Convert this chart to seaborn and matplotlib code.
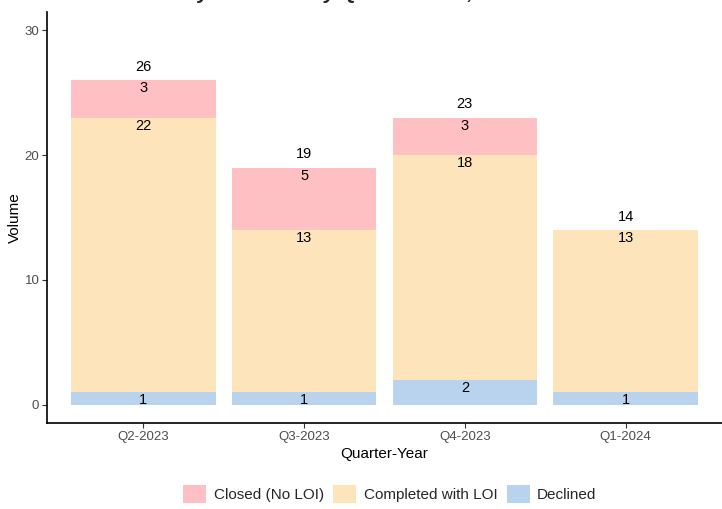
"""
Stacked deal volume by outcome per quarter
"""
import pandas as pd
import numpy as np
import matplotlib
matplotlib.use("Agg")
import matplotlib.pyplot as plt
import seaborn as sns
from matplotlib.patches import Patch

quarters = ["Q2-2023", "Q3-2023", "Q4-2023", "Q1-2024"]
declined = [1, 1, 2, 1]
completed = [22, 13, 18, 13]
closed = [3, 5, 3, 0]
outcomes = ["Closed (No LOI)", "Completed with LOI", "Declined"]
colors = {"Closed (No LOI)": "#FFC0C4", "Completed with LOI": "#FDE4BA", "Declined": "#B9D3EE"}

sns.set_theme(style="white")
plt.rcParams["font.family"] = ["Liberation Sans", "DejaVu Sans"]

df = pd.DataFrame({"quarter": quarters, "Declined": declined,
                   "Completed with LOI": completed, "Closed (No LOI)": closed})
# cumulative tops for overlapping draw
df["top_declined"] = df["Declined"]
df["top_completed"] = df["Declined"] + df["Completed with LOI"]
df["total"] = df["top_completed"] + df["Closed (No LOI)"]

fig = plt.figure(figsize=(7.22, 5.09), dpi=100)
ax = fig.add_axes([47 / 722, 86 / 509, 675 / 722, 411 / 509])

for col, name in [("total", "Closed (No LOI)"), ("top_completed", "Completed with LOI"),
                  ("top_declined", "Declined")]:
    sns.barplot(data=df, x="quarter", y=col, color=colors[name], width=0.9,
                saturation=1, linewidth=0, ax=ax)

# segment labels at the top of each segment
for i, row in df.iterrows():
    for val, top in [(row["Declined"], row["top_declined"]),
                     (row["Completed with LOI"], row["top_completed"]),
                     (row["Closed (No LOI)"], row["total"])]:
        if val > 0:
            ax.text(i, top - 0.08, str(val), ha="center", va="top", fontsize=10.5, color="black")
    ax.text(i, row["total"] + 0.5, str(row["total"]), ha="center", va="bottom",
            fontsize=10.5, color="black")

ax.set_xlim(-0.6, 3.6)
ax.set_ylim(-1.45, 31.45)
ax.set_yticks([0, 10, 20, 30])
ax.set_xlabel("Quarter-Year", fontsize=11, color="black", labelpad=3)
ax.set_ylabel("Volume", fontsize=11, color="black", labelpad=2)
ax.tick_params(axis="both", which="both", bottom=True, left=True, length=3.5, width=0.8,
               color="#333333", labelsize=9.5, labelcolor="#4D4D4D", pad=2)
sns.despine(ax=ax)
for side in ["left", "bottom"]:
    ax.spines[side].set_color("black")
    ax.spines[side].set_linewidth(1.2)

handles = [Patch(facecolor=colors[o], edgecolor="none", label=o) for o in outcomes]
fig.legend(handles=handles, loc="center", bbox_to_anchor=(390 / 722, 1 - 494 / 509), ncol=3,
           frameon=False, fontsize=11, handlelength=1.5, handleheight=1.5,
           columnspacing=0.6, handletextpad=0.5)

# title (cut off at the top edge in the reference, only descenders show)
fig.text(55 / 722, 1 + 0.5 / 509, "Deal Volume by Outcome by Quarter-Year, 2023-2024",
         ha="left", va="baseline", fontsize=15, fontweight="bold", fontstyle="italic")

fig.savefig("out.png", dpi=100)
